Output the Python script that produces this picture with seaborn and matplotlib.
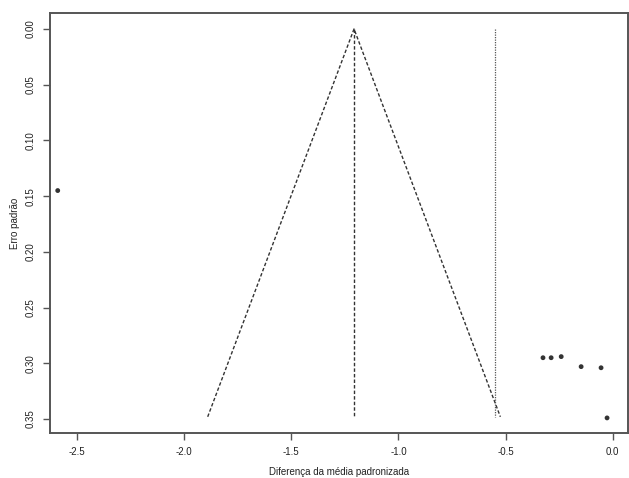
import matplotlib
matplotlib.use("Agg")
import matplotlib.pyplot as plt
import pandas as pd
import seaborn as sns

# study estimates (standardized mean difference) and their standard errors
effect = [-2.59, -0.325, -0.287, -0.240, -0.147, -0.054, -0.026]
std_err = [0.145, 0.295, 0.295, 0.294, 0.303, 0.304, 0.349]

# pooled estimate and funnel limits
pooled = -1.207
funnel_x = [-1.890, -1.207, -0.524]
funnel_se = [0.348, 0.0, 0.348]
ref_x = -0.55
ref_se = [0.0, 0.348]

x_ticks = [-2.5, -2.0, -1.5, -1.0, -0.5, 0.0]
y_ticks = [0.00, 0.05, 0.10, 0.15, 0.20, 0.25, 0.30, 0.35]

sns.set_style("white")
plt.rcParams["font.family"] = ["Liberation Sans", "DejaVu Sans"]

fig = plt.figure(figsize=(6.29, 4.78), dpi=100)
ax = fig.add_axes([0.0795, 0.094, 0.919, 0.879])

line_col = "#333333"
studies = pd.DataFrame({"effect": effect, "se": std_err})
sns.scatterplot(data=studies, x="effect", y="se", ax=ax, color="#333333",
                s=12, edgecolor="none")

funnel = pd.DataFrame({"x": funnel_x, "se": funnel_se})
sns.lineplot(data=funnel, x="x", y="se", ax=ax, sort=False, estimator=None,
             color=line_col, linestyle=(0, (2.5, 1.5)), linewidth=1.0)

center = pd.DataFrame({"x": [pooled, pooled], "se": ref_se})
sns.lineplot(data=center, x="x", y="se", ax=ax, sort=False, estimator=None,
             color=line_col, linestyle=(0, (2.5, 1.5)), linewidth=1.0)

ref = pd.DataFrame({"x": [ref_x, ref_x], "se": ref_se})
sns.lineplot(data=ref, x="x", y="se", ax=ax, sort=False, estimator=None,
             color="#555555", linestyle=(0, (1, 1)), linewidth=0.9)

ax.set_xlim(-2.626, 0.072)
ax.set_ylim(0.3626, -0.0144)
ax.set_xticks(x_ticks)
ax.set_xticklabels([f"{t:.1f}" for t in x_ticks])
ax.set_yticks(y_ticks)
ax.set_yticklabels([f"{t:.2f}" for t in y_ticks], rotation=90, va="center")

for side in ["left", "bottom", "top", "right"]:
    ax.spines[side].set_color("#555555")
    ax.spines[side].set_linewidth(1.4)
ax.tick_params(axis="both", direction="out", length=5, width=1.0,
               color="#555555", labelsize=7, labelcolor="#222222",
               bottom=True, left=True, pad=5)

ax.set_xlabel("Diferença da média padronizada", fontsize=7, color="#222222",
              va="center")
ax.set_ylabel("Erro padrão", fontsize=7, color="#222222", va="center")
ax.xaxis.set_label_coords(0.5, -0.093)
ax.yaxis.set_label_coords(-0.06, 0.5)

fig.savefig("out.png", dpi=100)
